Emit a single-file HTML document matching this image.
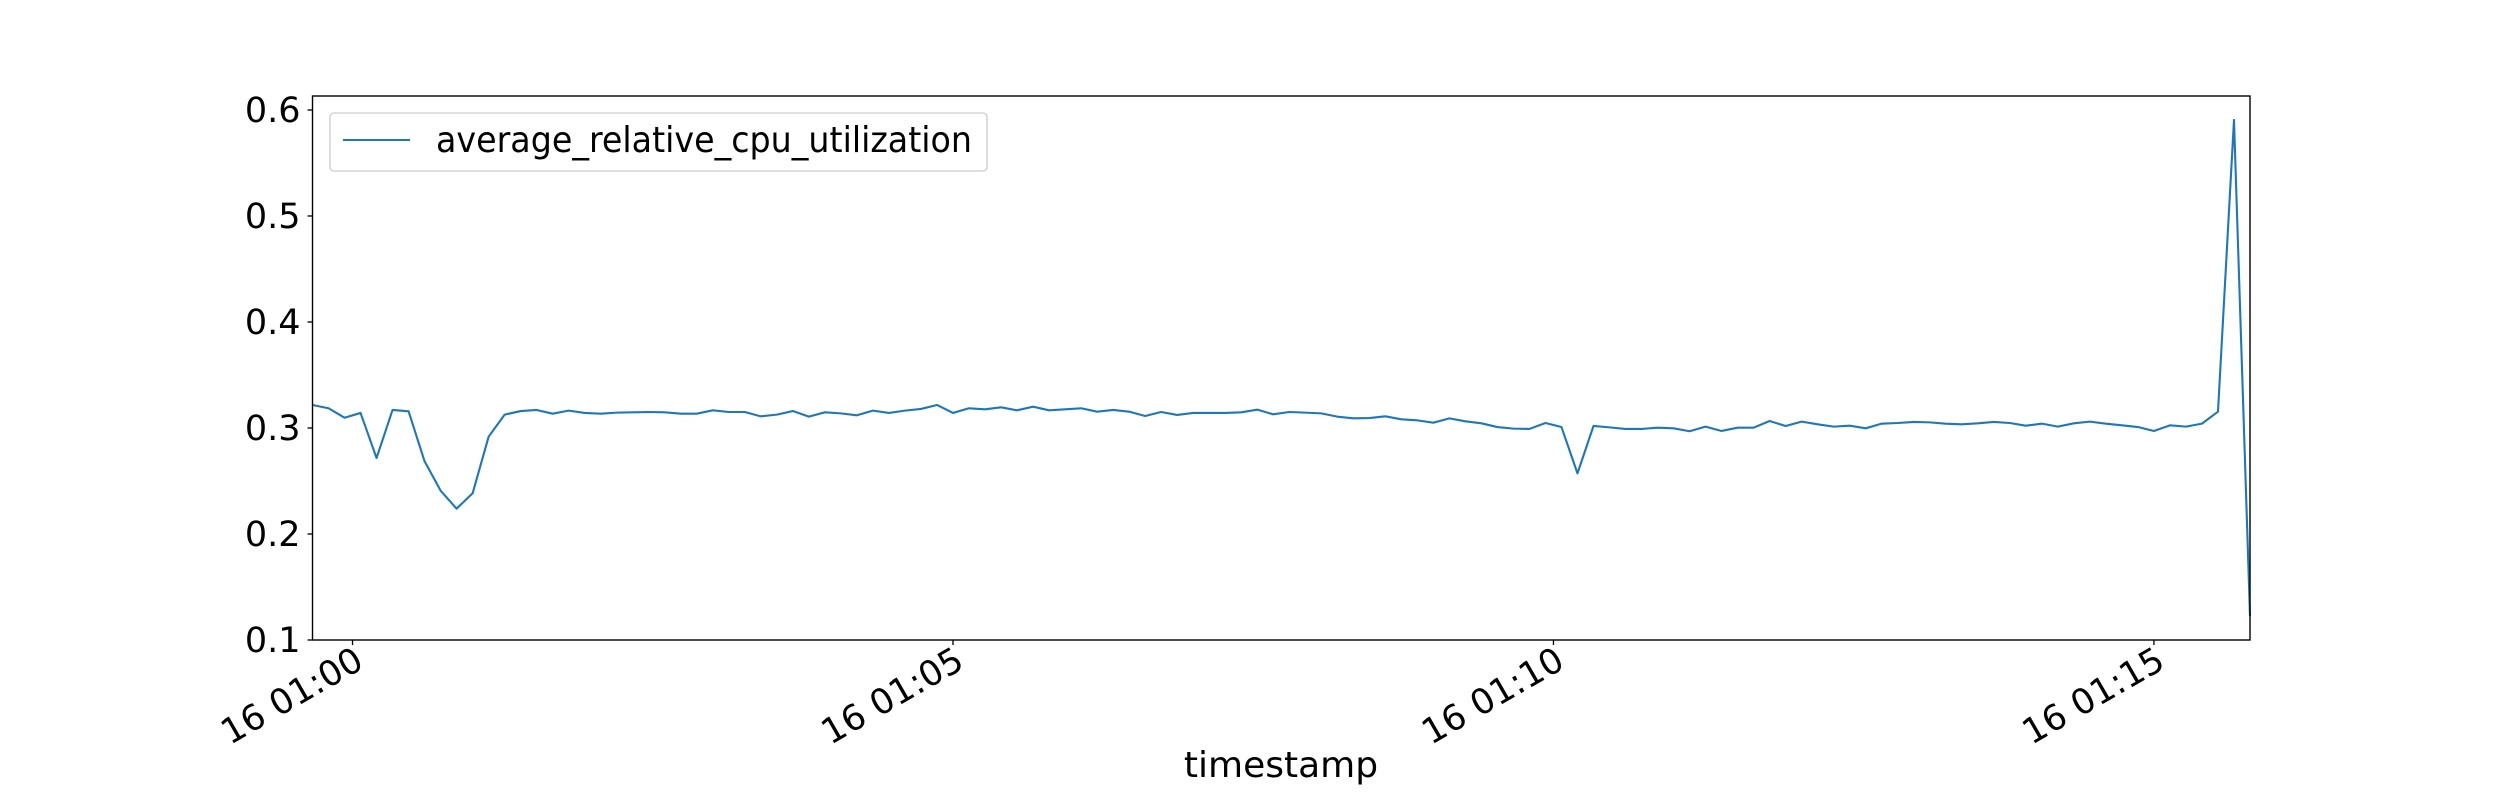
<!DOCTYPE html>
<html><head><meta charset="utf-8"><style>
html,body{margin:0;padding:0;background:#fff;}
svg text{font-family:"DejaVu Sans","Liberation Sans",sans-serif;fill:#000;}
</style></head><body>
<svg id="chart" width="2500" height="800" viewBox="0 0 2500 800" xmlns="http://www.w3.org/2000/svg">
<rect width="2500" height="800" fill="#fff"/>
<g id="yaxis"></g>
<g id="xaxis"></g>
<path id="series" fill="none" stroke="#1f77b4" stroke-width="2.1" stroke-linejoin="round"/>
<rect x="312.5" y="96" width="1937.5" height="544" fill="none" stroke="#000" stroke-width="1.4"/>
<g>
<rect x="330" y="113" width="657" height="58" rx="4" fill="#fff" fill-opacity="0.8" stroke="#ccc" stroke-width="1.3"/>
<line x1="343" y1="140" x2="410" y2="140" stroke="#1f77b4" stroke-width="2.1"/>
<text x="436" y="152" font-size="36" textLength="536" lengthAdjust="spacingAndGlyphs">average_relative_cpu_utilization</text>
</g>
<text x="1281" y="777" font-size="36" text-anchor="middle">timestamp</text>
</svg>
<script>
const values = [0.3217,0.3186,0.3097,0.3142,0.2717,0.317,0.3157,0.2686,0.2409,0.2239,0.2384,0.2918,0.3126,0.316,0.317,0.3135,0.3164,0.3142,0.3135,0.3145,0.3148,0.3151,0.3148,0.3135,0.3135,0.3167,0.3151,0.3151,0.311,0.3126,0.316,0.3107,0.3148,0.3138,0.312,0.3164,0.3142,0.3164,0.318,0.3217,0.3142,0.3186,0.3176,0.3195,
0.3167,0.3201,0.3167,0.3176,0.3186,0.3154,0.317,0.3154,0.3113,0.3151,0.3123,0.3142,0.3142,0.3142,0.3148,0.3173,0.3129,0.3151,0.3145,0.3138,0.3107,0.3091,0.3094,0.311,0.3082,0.3072,0.305,0.3091,0.3063,0.3044,0.3009,0.2994,0.2991,0.3047,0.3009,0.2572,0.3019,0.3006,0.2991,
0.2991,0.3003,0.2997,0.2969,0.3013,0.2972,0.3003,0.3003,0.3066,0.3019,0.306,0.3035,0.3013,0.3022,0.2997,0.3041,0.3047,0.3057,0.3053,0.3041,0.3035,0.3044,0.3057,0.3047,0.3022,0.3041,0.3013,0.3044,0.306,0.3041,0.3025,0.3009,0.2972,0.3025,0.3013,0.3041,0.3154,0.5906,0.1226];
const startSeconds = -20;      // seconds relative to 16 01:00
const stepSeconds = 8;
const yTicks = [0.1,0.2,0.3,0.4,0.5,0.6];
const yTickLabels = ["0.1","0.2","0.3","0.4","0.5","0.6"];
const xTickSeconds = [0,300,600,900];
const xTickLabels = ["16 01:00","16 01:05","16 01:10","16 01:15"];

const L=312.5,R=2250,T=96,B=640;
const yMin=0.1,yMax=0.6132;
const tMin=startSeconds, tMax=startSeconds+(values.length-1)*stepSeconds;
const xs=t=>L+(t-tMin)/(tMax-tMin)*(R-L);
const ys=v=>B-(v-yMin)/(yMax-yMin)*(B-T);
const NS="http://www.w3.org/2000/svg";
function mk(tag,attrs,parent){const e=document.createElementNS(NS,tag);for(const k in attrs)e.setAttribute(k,attrs[k]);parent.appendChild(e);return e;}

document.getElementById('series').setAttribute('d',values.map((v,i)=>(i?'L':'M')+xs(startSeconds+i*stepSeconds).toFixed(2)+','+ys(v).toFixed(2)).join(''));

const ya=document.getElementById('yaxis');
yTicks.forEach((v,i)=>{
  const y=ys(v);
  const tk=mk('line',{x1:L-5,x2:L,y1:y,y2:y,stroke:'#000','stroke-width':1.3},ya);
  
  
  const tx=mk('text',{x:L-12,y:y+12,'font-size':35,'text-anchor':'end'},ya);
  tx.textContent=yTickLabels[i];
  
  
});
const xa=document.getElementById('xaxis');
xTickSeconds.forEach((s,i)=>{
  const x=xs(s);
  const tk=mk('line',{x1:x,x2:x,y1:B,y2:B+5,stroke:'#000','stroke-width':1.3},xa);
  
  
  const tx=mk('text',{x:0,y:0,'font-size':35,'text-anchor':'end',transform:`translate(${x+13},${B+27}) rotate(-30)`},xa);
  tx.textContent=xTickLabels[i];
  
  
});
</script>
</body></html>
